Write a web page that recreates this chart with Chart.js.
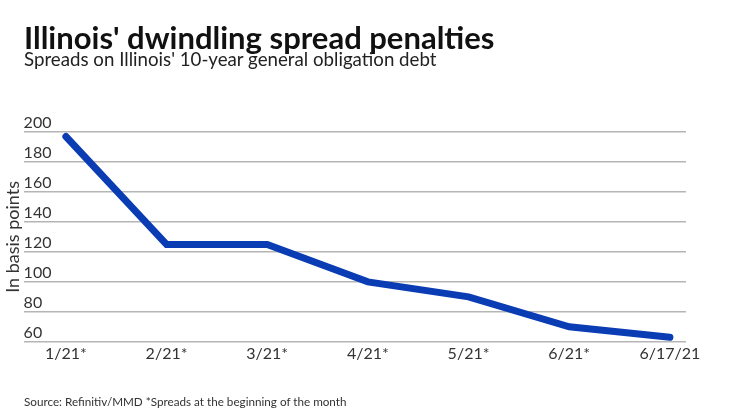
<!DOCTYPE html>
<html>
<head>
<meta charset="utf-8">
<script src="https://cdn.jsdelivr.net/npm/chart.js@4/dist/chart.umd.min.js"></script>
<style>
  body { margin: 0; background: #fff; font-family: Lato, "Noto Sans", sans-serif; }
  #wrap { position: relative; width: 740px; height: 416px; overflow: hidden; }
  #title { position: absolute; left: 24px; top: 18px; font-size: 31px; font-weight: 700; color: #111; line-height: normal; white-space: nowrap; }
  #subtitle { position: absolute; left: 24px; top: 48px; font-size: 18.7px; color: #222; line-height: normal; white-space: nowrap; }
  #source { position: absolute; left: 24px; top: 394px; font-size: 11.7px; color: #333; line-height: normal; white-space: nowrap; }
  #chartBox { position: absolute; left: 0; top: 0; width: 740px; height: 416px; }
</style>
</head>
<body>
<div id="wrap">
  <div id="chartBox"><canvas id="myChart"></canvas></div>
  <div id="title">Illinois' dwindling spread penalties</div>
  <div id="subtitle">Spreads on Illinois' 10-year general obligation debt</div>
  <div id="source">Source: Refinitiv/MMD *Spreads at the beginning of the month</div>
</div>
<script>
// data
const dates = ["1/21*", "2/21*", "3/21*", "4/21*", "5/21*", "6/21*", "6/17/21"];
const spreads = [197, 125, 125, 100, 90, 70, 63];
const yTicks = [60, 80, 100, 120, 140, 160, 180, 200];

const ctx = document.querySelector("#myChart").getContext('2d');

const config = {
  type: 'line',
  data: {
    datasets: [{
      label: "Spread",
      data: spreads.map((v, i) => ({ x: i, y: v })),
      borderColor: "#0a3db4",
      backgroundColor: "#0a3db4",
      borderWidth: 7,
      borderCapStyle: 'round',
      pointRadius: 0,
      tension: 0,
      fill: false
    }]
  },
  options: {
    responsive: true,
    maintainAspectRatio: false,
    animation: false,
    layout: {
      padding: { top: 132, left: 2, right: 54, bottom: 51 }
    },
    plugins: {
      legend: { display: false },
      tooltip: { enabled: false }
    },
    scales: {
      x: {
        type: 'linear',
        min: -0.42,
        max: 6.16,
        grid: { display: false, drawTicks: false },
        border: { display: false },
        afterBuildTicks: axis => {
          axis.ticks = dates.map((d, i) => ({ value: i }));
        },
        ticks: {
          autoSkip: false,
          maxRotation: 0,
          padding: 2,
          color: "#333",
          font: { family: "Lato", size: 16 },
          callback: v => dates[v]
        }
      },
      y: {
        min: yTicks[0],
        max: yTicks[yTicks.length - 1],
        afterBuildTicks: axis => {
          axis.ticks = yTicks.map(v => ({ value: v }));
        },
        grid: { color: "#b5b5b5", lineWidth: 1.5, drawTicks: false },
        border: { display: false },
        ticks: {
          mirror: true,
          padding: 0,
          labelOffset: -9,
          color: "#333",
          font: { family: "Lato", size: 16 }
        },
        title: {
          display: true,
          text: "In basis points",
          color: "#333",
          padding: 0,
          font: { family: "Lato", size: 18 }
        }
      }
    }
  }
};

let chart = new Chart(ctx, config);
</script>
</body>
</html>
